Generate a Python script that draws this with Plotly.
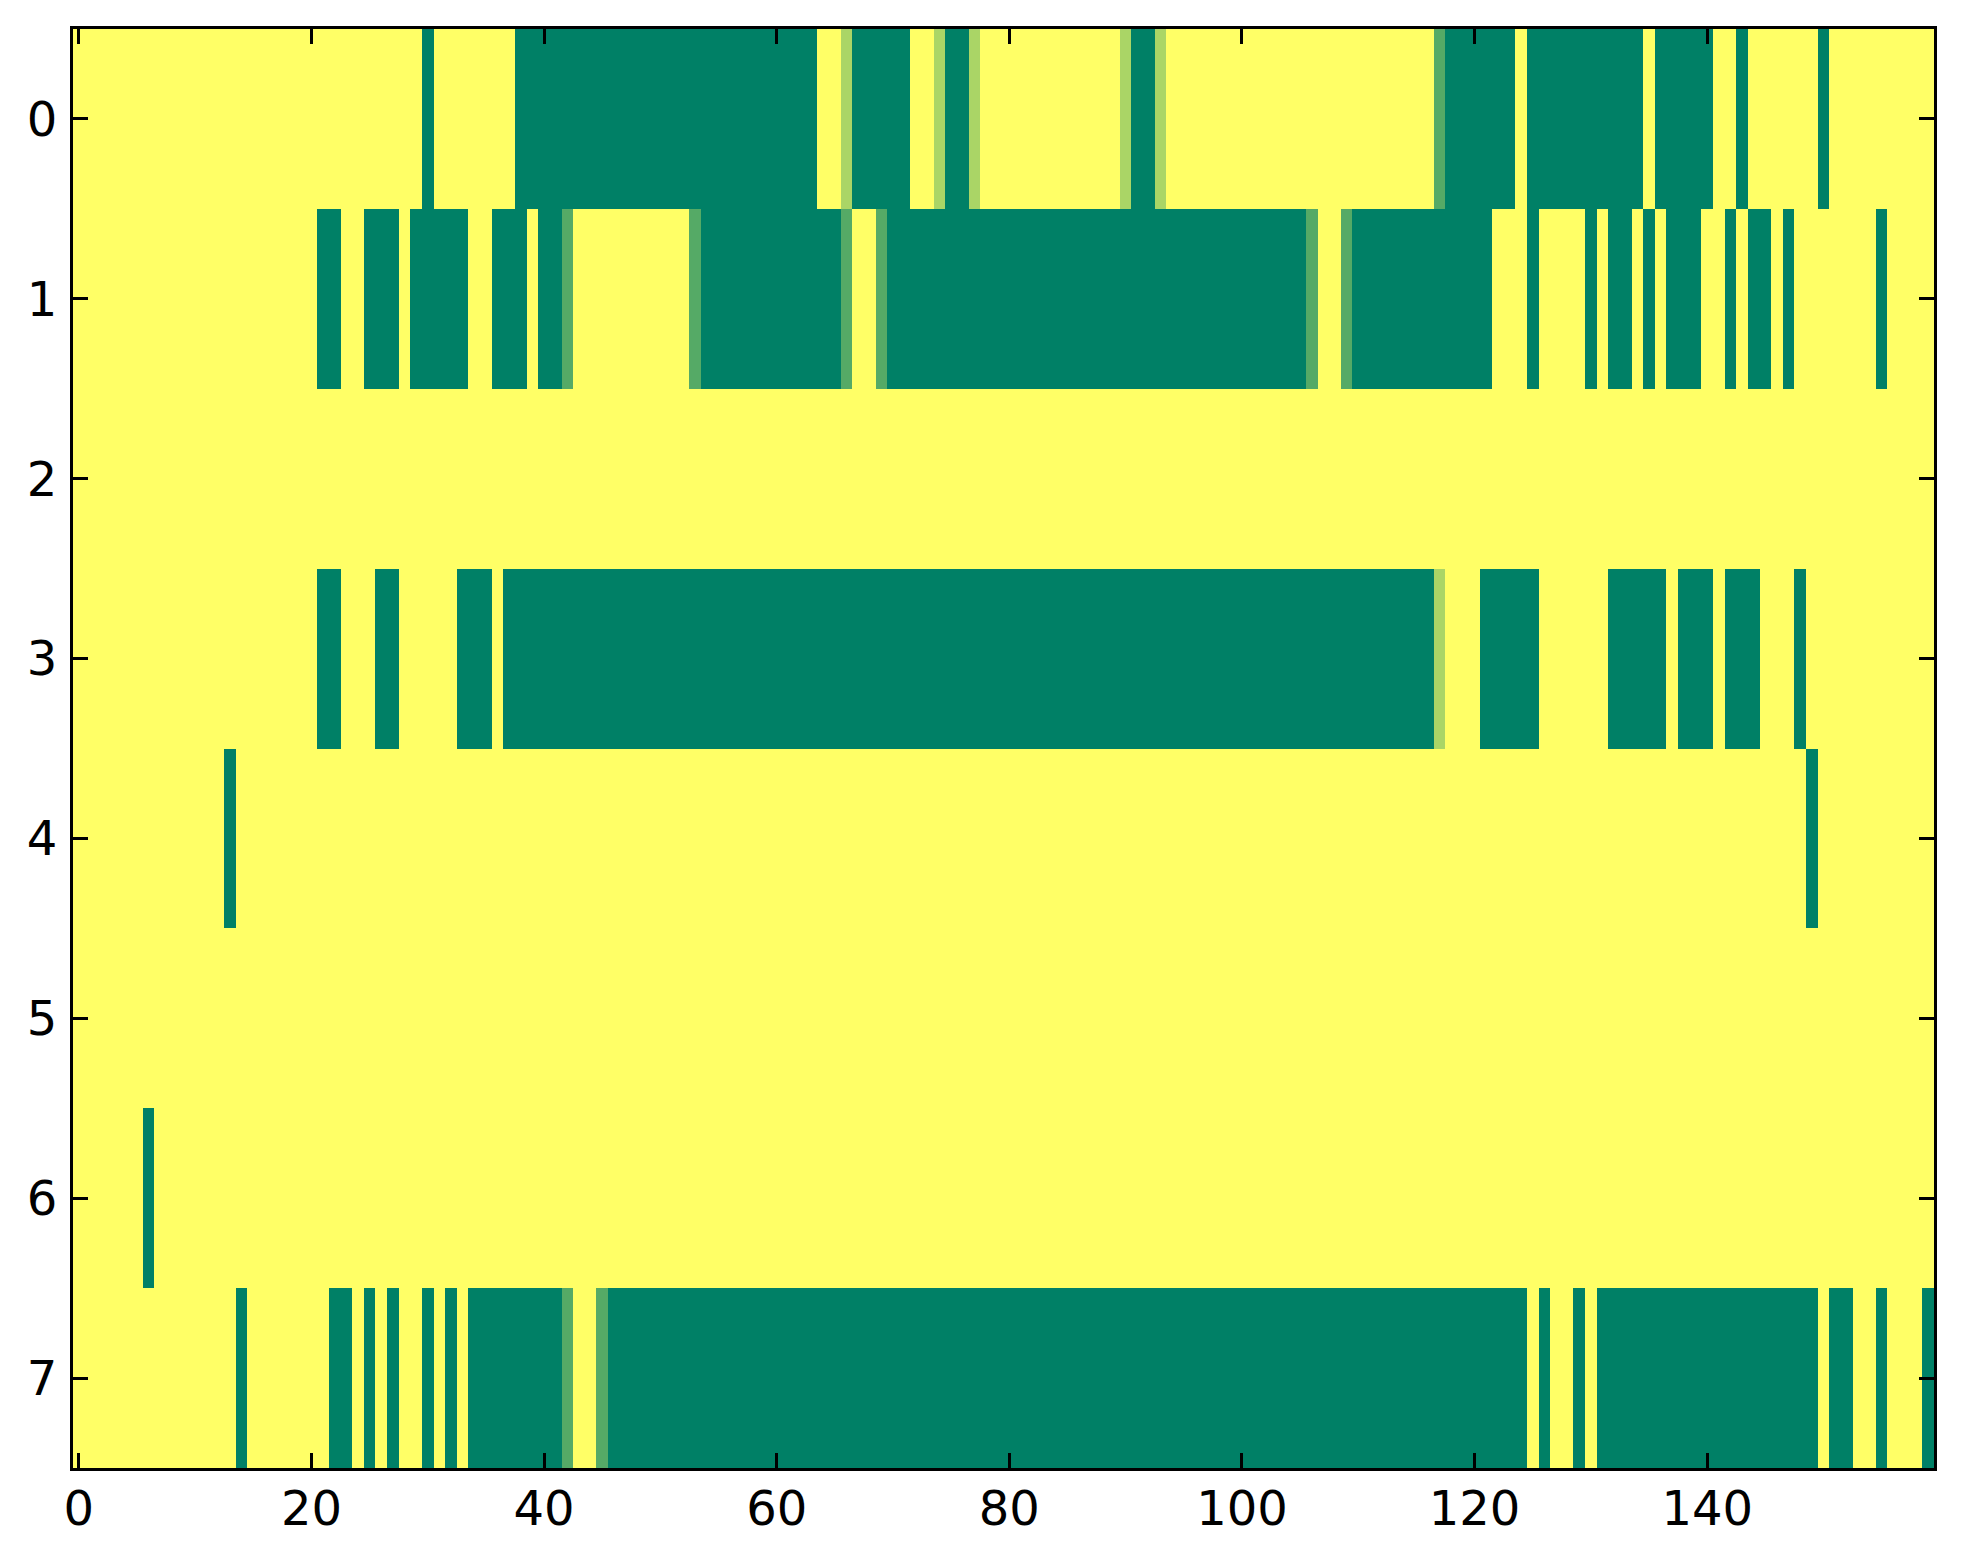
"""
Heatmap d'occupation : 8 lignes x 160 colonnes, palette "summer" inversée
(jaune = 0, vert foncé = 1), style matplotlib classique.
"""

import plotly.graph_objects as go

# Valeurs, en tiers (0 = jaune, 1 = 1/3, 2 = 2/3, 3 = vert).
# Chaque ligne : 16 groupes de 10 colonnes.
ROW_0 = ("0000000000 0000000000 0000000000 3000000033 3333333333 3333333333 3333001333 3300133100 "
         "0000000000 1331000000 0000000000 0000000233 3333033333 3333303333 3003000000 3000000000")
ROW_1 = ("0000000000 0000000000 0330033303 3333003330 3320000000 0002333333 3333332002 3333333333 "
         "3333333333 3333333333 3333332002 3333333333 3300030000 3033030333 0030330300 0000030000")
ROW_2 = ("0000000000 0000000000 0000000000 0000000000 0000000000 0000000000 0000000000 0000000000 "
         "0000000000 0000000000 0000000000 0000000000 0000000000 0000000000 0000000000 0000000000")
ROW_3 = ("0000000000 0000000000 0330003300 0003330333 3333333333 3333333333 3333333333 3333333333 "
         "3333333333 3333333333 3333333333 3333333100 0333330000 0033333033 3033300030 0000000000")
ROW_4 = ("0000000000 0003000000 0000000000 0000000000 0000000000 0000000000 0000000000 0000000000 "
         "0000000000 0000000000 0000000000 0000000000 0000000000 0000000000 0000000003 0000000000")
ROW_5 = ("0000000000 0000000000 0000000000 0000000000 0000000000 0000000000 0000000000 0000000000 "
         "0000000000 0000000000 0000000000 0000000000 0000000000 0000000000 0000000000 0000000000")
ROW_6 = ("0000003000 0000000000 0000000000 0000000000 0000000000 0000000000 0000000000 0000000000 "
         "0000000000 0000000000 0000000000 0000000000 0000000000 0000000000 0000000000 0000000000")
ROW_7 = ("0000000000 0000300000 0033030300 3030333333 3320023333 3333333333 3333333333 3333333333 "
         "3333333333 3333333333 3333333333 3333333333 3333303003 0333333333 3333333333 0330030003")

ROWS = [ROW_0, ROW_1, ROW_2, ROW_3, ROW_4, ROW_5, ROW_6, ROW_7]
X_TICKS = [0, 20, 40, 60, 80, 100, 120, 140]
Y_TICKS = [0, 1, 2, 3, 4, 5, 6, 7]

# summer_r : jaune (1, 1, 0.4) -> vert (0, 0.5, 0.4)
SUMMER_R = [[0.0, "rgb(255,255,102)"], [1.0, "rgb(0,128,102)"]]

z = [[int(ch) / 3 for ch in row.replace(" ", "")] for row in ROWS]
n_cols = len(z[0])

fig = go.Figure(go.Heatmap(
    z=z,
    x=list(range(n_cols)),
    y=list(range(len(z))),
    colorscale=SUMMER_R,
    zmin=0, zmax=1,
    showscale=False,
    hoverinfo="skip",
))

axis_style = dict(
    showgrid=False, zeroline=False,
    showline=True, linecolor="black", linewidth=3, mirror="ticks",
    ticks="inside", ticklen=15, tickwidth=2.5, tickcolor="black",
    tickfont=dict(family="DejaVu Sans", size=48, color="black"),
    automargin=False,
)

fig.update_xaxes(range=[-0.5, n_cols - 0.5], tickvals=X_TICKS, ticklabelstandoff=-4, **axis_style)
fig.update_yaxes(range=[len(z) - 0.5, -0.5], tickvals=Y_TICKS, ticklabelstandoff=3, **axis_style)

# la page ajoute 8 px de marge autour du graphique : on en tient compte
fig.update_layout(
    width=1947, height=1548,
    margin=dict(l=65, r=21, t=21, b=88),
    plot_bgcolor="white", paper_bgcolor="white",
    showlegend=False,
)

fig.write_html("out.html")
